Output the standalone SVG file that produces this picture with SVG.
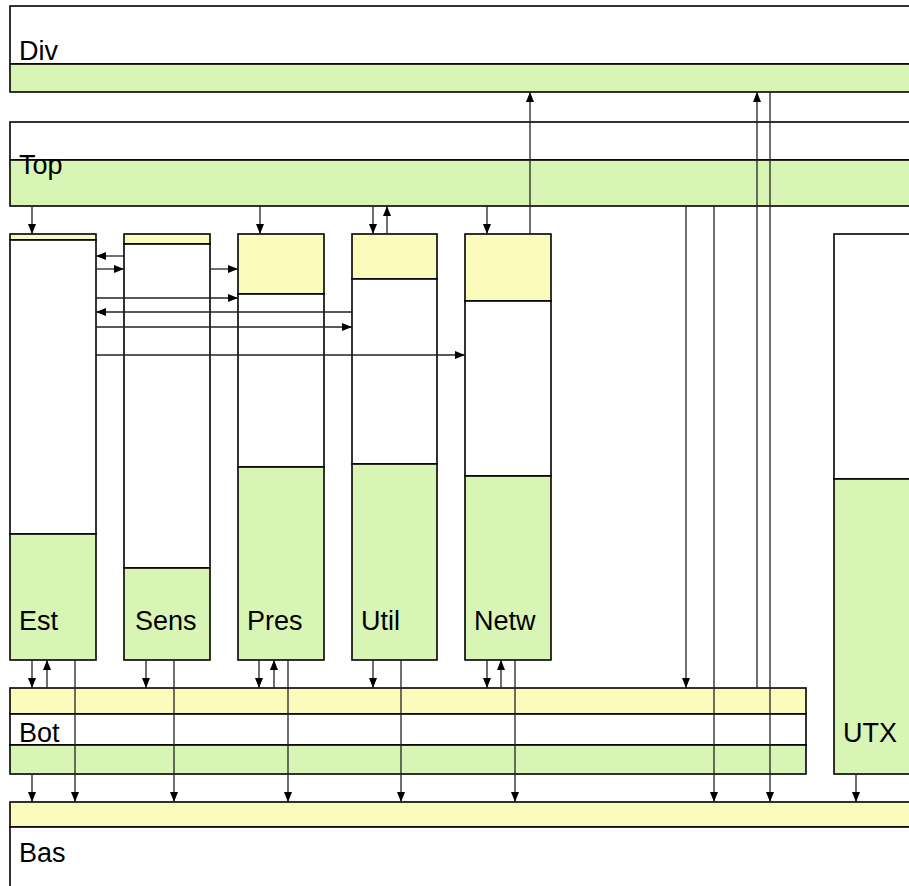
<svg xmlns="http://www.w3.org/2000/svg" width="909" height="886" viewBox="0 0 909 886">
<style>
.box{stroke:#000;stroke-width:1.6}
.w{fill:#fff}
.y{fill:#fbfbbb}
.g{fill:#d9f5b6}
.lbl{font-family:"Liberation Sans",Arial,sans-serif;font-size:27px;fill:#000}
.c line{stroke:#222;stroke-width:1.3;marker-end:url(#ah)}
</style>
<defs>
<marker id="ah" markerUnits="userSpaceOnUse" markerWidth="10" markerHeight="10" viewBox="0 0 10 8" refX="10" refY="4" orient="auto">
<path d="M0,0 L10,4 L0,8 z" fill="#000"/>
</marker>
</defs>
<rect x="0" y="0" width="909" height="886" fill="#fff"/>

<g id="div">
<rect class="box w" x="10" y="6" width="920" height="58"/>
<rect class="box g" x="10" y="64" width="920" height="28"/>
<text class="lbl" x="19" y="60">Div</text>
</g>

<g id="top">
<rect class="box w" x="10" y="122" width="920" height="38"/>
<rect class="box g" x="10" y="160" width="920" height="46"/>
<text class="lbl" x="19" y="174">Top</text>
</g>

<g id="est">
<rect class="box y" x="10" y="234" width="86" height="6"/>
<rect class="box w" x="10" y="240" width="86" height="294"/>
<rect class="box g" x="10" y="534" width="86" height="126"/>
<text class="lbl" x="19" y="630">Est</text>
</g>

<g id="sens">
<rect class="box y" x="124" y="234" width="86" height="10"/>
<rect class="box w" x="124" y="244" width="86" height="324"/>
<rect class="box g" x="124" y="568" width="86" height="92"/>
<text class="lbl" x="135" y="630">Sens</text>
</g>

<g id="pres">
<rect class="box y" x="238" y="234" width="86" height="60"/>
<rect class="box w" x="238" y="294" width="86" height="173"/>
<rect class="box g" x="238" y="467" width="86" height="193"/>
<text class="lbl" x="247" y="630">Pres</text>
</g>

<g id="util">
<rect class="box y" x="352" y="234" width="85" height="45"/>
<rect class="box w" x="352" y="279" width="85" height="185"/>
<rect class="box g" x="352" y="464" width="85" height="196"/>
<text class="lbl" x="361" y="630">Util</text>
</g>

<g id="netw">
<rect class="box y" x="465" y="234" width="86" height="67"/>
<rect class="box w" x="465" y="301" width="86" height="175"/>
<rect class="box g" x="465" y="476" width="86" height="184"/>
<text class="lbl" x="474" y="630">Netw</text>
</g>

<g id="utx">
<rect class="box w" x="834" y="234" width="100" height="245"/>
<rect class="box g" x="834" y="479" width="100" height="295"/>
<text class="lbl" x="843" y="742">UTX</text>
</g>

<g id="bot">
<rect class="box y" x="10" y="688" width="796" height="26"/>
<rect class="box w" x="10" y="714" width="796" height="31"/>
<rect class="box g" x="10" y="745" width="796" height="29"/>
<text class="lbl" x="19" y="742">Bot</text>
</g>

<g id="bas">
<rect class="box y" x="10" y="802" width="920" height="25"/>
<rect class="box w" x="10" y="827" width="920" height="80"/>
<text class="lbl" x="19" y="862">Bas</text>
</g>

<g id="connectors" class="c">
<line x1="32" y1="206" x2="32" y2="234"/>
<line x1="260" y1="206" x2="260" y2="234"/>
<line x1="373" y1="206" x2="373" y2="234"/>
<line x1="387" y1="234" x2="387" y2="206"/>
<line x1="487" y1="206" x2="487" y2="234"/>
<line x1="530" y1="234" x2="530" y2="92"/>
<line x1="686" y1="206" x2="686" y2="688"/>
<line x1="714" y1="206" x2="714" y2="802"/>
<line x1="757" y1="688" x2="757" y2="92"/>
<line x1="770" y1="92" x2="770" y2="802"/>
<line x1="32" y1="660" x2="32" y2="688"/>
<line x1="47" y1="688" x2="47" y2="660"/>
<line x1="75" y1="660" x2="75" y2="802"/>
<line x1="146" y1="660" x2="146" y2="688"/>
<line x1="174" y1="660" x2="174" y2="802"/>
<line x1="259" y1="660" x2="259" y2="688"/>
<line x1="274" y1="688" x2="274" y2="660"/>
<line x1="288" y1="660" x2="288" y2="802"/>
<line x1="373" y1="660" x2="373" y2="688"/>
<line x1="401" y1="660" x2="401" y2="802"/>
<line x1="487" y1="660" x2="487" y2="688"/>
<line x1="501" y1="688" x2="501" y2="660"/>
<line x1="515" y1="660" x2="515" y2="802"/>
<line x1="32" y1="774" x2="32" y2="802"/>
<line x1="856" y1="774" x2="856" y2="802"/>
<line x1="124" y1="256" x2="96" y2="256"/>
<line x1="96" y1="269" x2="124" y2="269"/>
<line x1="210" y1="269" x2="238" y2="269"/>
<line x1="96" y1="298" x2="238" y2="298"/>
<line x1="352" y1="312" x2="96" y2="312"/>
<line x1="96" y1="327" x2="352" y2="327"/>
<line x1="96" y1="355" x2="465" y2="355"/>
</g>
</svg>
